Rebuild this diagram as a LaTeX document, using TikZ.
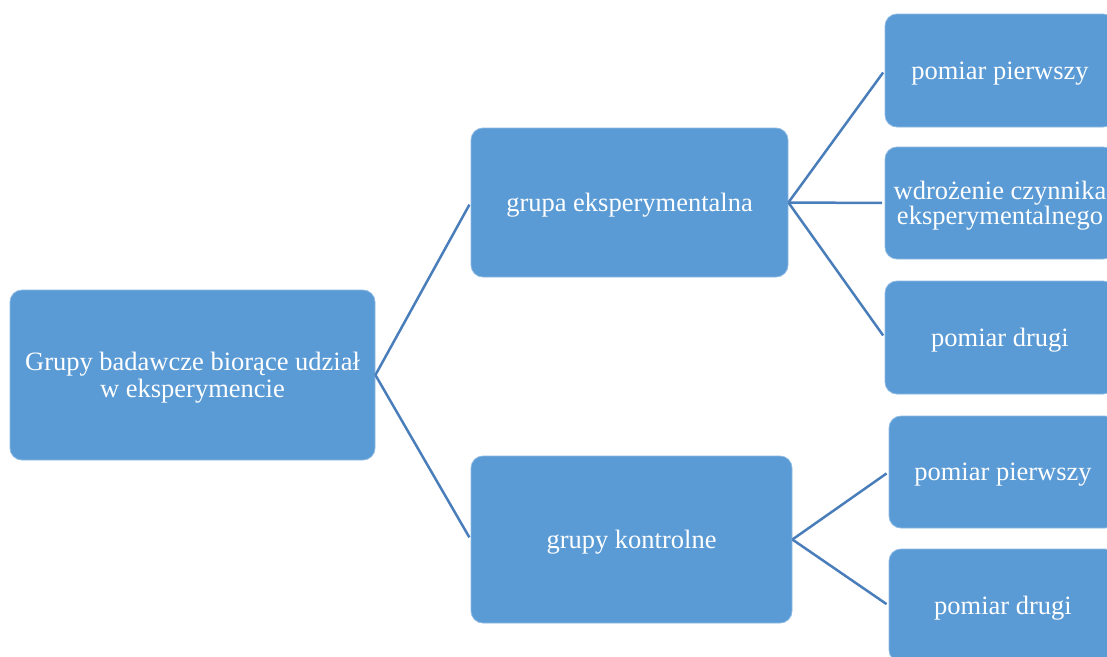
\documentclass[tikz,border=0pt]{standalone}
\usepackage{fontspec}
\setmainfont{Liberation Serif}
\definecolor{boxfill}{HTML}{5B9BD5}
\definecolor{linecol}{HTML}{4A7EBB}
\newcommand\boxtext[2]{\raisebox{-3.5pt}[\height][\depth]{\fontsize{26.5}{#1}\selectfont\begin{tabular}{@{}c@{}}#2\end{tabular}}}
\begin{document}
\begin{tikzpicture}[x=1pt,y=-1pt,
  box/.style={rectangle, rounded corners=12pt, fill=boxfill, draw=boxfill!70!white, line width=0.8pt,
    text=white, inner sep=0pt},
  conn/.style={draw=linecol, line width=2.5pt, shorten >=2.5pt}]
\path[use as bounding box, clip] (0,0) rectangle (1107,656);
\node[box, minimum width=365pt, minimum height=170pt] (root) at (192.5,375) {\boxtext{27}{Grupy badawcze biorące udział\\w eksperymencie}};
\node[box, minimum width=317pt, minimum height=149pt] (g1) at (629.5,202.5) {\boxtext{27}{grupa eksperymentalna}};
\node[box, minimum width=321pt, minimum height=167pt] (g2) at (631.5,539.5) {\boxtext{27}{grupy kontrolne}};
\node[box, minimum width=230pt, minimum height=113pt] (r1) at (1000,70.5) {\boxtext{27}{pomiar pierwszy}};
\node[box, minimum width=230pt, minimum height=112pt] (r2) at (1000,203) {\boxtext{23}{wdrożenie czynnika\\eksperymentalnego}};
\node[box, minimum width=230pt, minimum height=113pt] (r3) at (1000,337.5) {\boxtext{27}{pomiar drugi}};
\node[box, minimum width=228pt, minimum height=112pt] (r4) at (1003,472) {\boxtext{27}{pomiar pierwszy}};
\node[box, minimum width=228pt, minimum height=113pt] (r5) at (1003,605.5) {\boxtext{27}{pomiar drugi}};
\draw[conn] (root.east) -- (g1.west);
\draw[conn] (root.east) -- (g2.west);
\draw[conn] (g1.east) -- (r1.west);
\draw[conn] (g1.east) -- (r2.west);
\draw[conn] (g1.east) -- (r3.west);
\draw[conn] (g2.east) -- (r4.west);
\draw[conn] (g2.east) -- (r5.west);
\end{tikzpicture}
\end{document}
